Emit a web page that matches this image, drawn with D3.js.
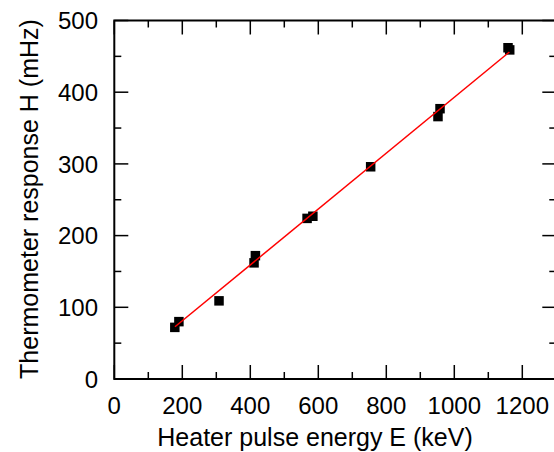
<!DOCTYPE html>
<html>
<head>
<meta charset="utf-8">
<script src="https://cdn.jsdelivr.net/npm/d3@7"></script>
<style>
  html, body { margin: 0; padding: 0; background: #fff; }
  svg { display: block; }
  text { font-family: "Liberation Sans", Arial, sans-serif; fill: #000; }
</style>
</head>
<body>
<svg id="chart" width="554" height="452"></svg>
<script>
// Measured heater pulses: energy E (keV) and thermometer response H (mHz)
const energyKeV = [178, 190, 308, 411, 415, 567, 584, 754, 952, 958, 1158, 1163];
const responseMHz = [72, 80, 109, 162, 172, 224, 227, 296, 366, 377, 462, 459];

// Linear fit H = a + b*E, drawn across the measured range
const fitIntercept = 3.3;
const fitSlope = 0.3896;
const fitRange = [178.5, 1162];

const xTicks = [0, 200, 400, 600, 800, 1000, 1200];
const yTicks = [0, 100, 200, 300, 400, 500];

const svg = d3.select("#chart");
const plotLeft = 114.3, plotTop = 20, plotBottom = 379;

const x = d3.scaleLinear().domain([0, 1300]).range([plotLeft, plotLeft + 1300 * 0.34]);
const y = d3.scaleLinear().domain([0, 500]).range([plotBottom, plotTop + 0.5]);

const frame = svg.append("g").attr("stroke", "#000").attr("fill", "none");

// Frame
frame.append("rect")
  .attr("x", x(0)).attr("y", y(500))
  .attr("width", x(1300) - x(0)).attr("height", y(0) - y(500))
  .attr("stroke-width", 2);

// Inward ticks on all four sides (major long, minor short)
const xMinor = d3.range(100, 1300, 200);
const yMinor = d3.range(50, 500, 100);
const majLen = 14, minLen = 7;

function ticksX(vals, len) {
  vals.forEach(v => {
    frame.append("line").attr("x1", x(v)).attr("x2", x(v))
      .attr("y1", y(0)).attr("y2", y(0) - len).attr("stroke-width", 1.5);
    frame.append("line").attr("x1", x(v)).attr("x2", x(v))
      .attr("y1", y(500)).attr("y2", y(500) + len).attr("stroke-width", 1.5);
  });
}
function ticksY(vals, len) {
  vals.forEach(v => {
    frame.append("line").attr("y1", y(v)).attr("y2", y(v))
      .attr("x1", x(0)).attr("x2", x(0) + len).attr("stroke-width", 1.5);
    frame.append("line").attr("y1", y(v)).attr("y2", y(v))
      .attr("x1", x(1300)).attr("x2", x(1300) - len).attr("stroke-width", 1.5);
  });
}
ticksX(xTicks, majLen); ticksX(xMinor, minLen);
ticksY(yTicks, majLen); ticksY(yMinor, minLen);

// Tick labels
svg.append("g").selectAll("text").data(xTicks).join("text")
  .attr("x", d => x(d)).attr("y", 414)
  .attr("text-anchor", "middle").attr("font-size", 24)
  .text(d => d);

svg.append("g").selectAll("text").data(yTicks).join("text")
  .attr("x", 98).attr("y", d => y(d) + 8.6)
  .attr("text-anchor", "end").attr("font-size", 24)
  .text(d => d);

// Axis titles
svg.append("text")
  .attr("x", 315).attr("y", 446)
  .attr("text-anchor", "middle").attr("font-size", 25)
  .text("Heater pulse energy E (keV)");

svg.append("text")
  .attr("transform", "translate(38,199) rotate(-90)")
  .attr("text-anchor", "middle").attr("font-size", 25)
  .text("Thermometer response H (mHz)");

// Data points
const sq = 9.5;
svg.append("g").selectAll("rect").data(energyKeV.map((e, i) => [e, responseMHz[i]])).join("rect")
  .attr("x", d => x(d[0]) - sq / 2).attr("y", d => y(d[1]) - sq / 2)
  .attr("width", sq).attr("height", sq).attr("fill", "#000");

// Fit line
svg.append("line")
  .attr("x1", x(fitRange[0])).attr("y1", y(fitIntercept + fitSlope * fitRange[0]))
  .attr("x2", x(fitRange[1])).attr("y2", y(fitIntercept + fitSlope * fitRange[1]))
  .attr("stroke", "#ff0000").attr("stroke-width", 1.5);
</script>
</body>
</html>
